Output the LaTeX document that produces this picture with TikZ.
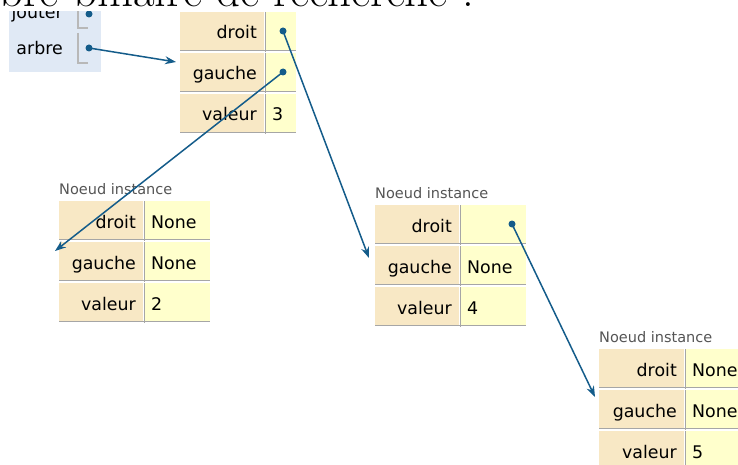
\documentclass[tikz,border=0pt]{standalone}
\usepackage{fontspec}
\newfontfamily\dv{DejaVu Sans}
\usetikzlibrary{arrows.meta}
\definecolor{keyc}{HTML}{F8E8C5}
\definecolor{valc}{HTML}{FFFFCC}
\definecolor{framec}{HTML}{E0E9F5}
\definecolor{ptr}{HTML}{145C8A}
\definecolor{sepc}{HTML}{A6A6A6}
\definecolor{lblc}{HTML}{555555}
\tikzset{
  keycell/.style={fill=keyc, draw=none, anchor=north west, inner sep=0pt, minimum height=38pt},
  valcell/.style={fill=valc, draw=none, anchor=north west, inner sep=0pt, minimum height=38pt},
  keytxt/.style={anchor=base east, inner sep=0pt, font=\dv\fontsize{17.4}{20}\selectfont},
  valtxt/.style={anchor=base west, inner sep=0pt, font=\dv\fontsize{17.4}{20}\selectfont},
  objlbl/.style={anchor=base west, inner sep=0pt, text=lblc, font=\dv\fontsize{14.5}{17}\selectfont},
  dot/.style={circle, fill=ptr, draw=none, inner sep=0pt, minimum size=7pt},
  ptrarrow/.style={draw=ptr, line width=1.5pt, -{Stealth[length=11pt, width=8pt]}},
  sepline/.style={draw=sepc, line width=1.6pt},
  bracket/.style={draw=sepc!80, line width=1.2pt},
}
% row: name, x, top, keyw, valw, key text, value text
\newcommand\hrow[7]{%
  \node[keycell, minimum width=#4pt] (#1k) at (#2,#3) {};
  \node[valcell, minimum width=#5pt] (#1v) at (#2+#4+2,#3) {};
  \draw[sepline] (#1k.south west) -- (#1v.south east);
  \draw[sepline] ([xshift=1pt]#1k.north east) -- ([xshift=1pt,yshift=-1.6pt]#1k.south east);
  \node[keytxt] (#1kt) at (#2+#4-7,#3+27) {#6};
  \node[valtxt] (#1vt) at (#2+#4+8,#3+27) {#7};
}
\newcommand\hobj[8]{%
  \node[objlbl] (#1lbl) at (#2,#3-7) {Noeud instance};
  \hrow{#1d}{#2}{#3}{#4}{#5}{droit}{#6}
  \hrow{#1g}{#2}{#3+41}{#4}{#5}{gauche}{#7}
  \hrow{#1v}{#2}{#3+82}{#4}{#5}{valeur}{#8}
}
\begin{document}
\begin{tikzpicture}[x=1pt,y=-1pt]
\useasboundingbox (0,0) rectangle (738,465);
\clip (0,0) rectangle (738,465);
% title
\node[anchor=base east, inner sep=0pt, font=\fontsize{47}{54}\selectfont] (title) at (474,7) {Arbre binaire de recherche :};
% global frame
\begin{scope}
  \clip (9,12) rectangle (101,72);
  \fill[framec] (9,0) rectangle (101,72);
  \node[keytxt] (vj) at (63,19) {jouter};
  \node[keytxt] (va) at (63,55) {arbre};
  \draw[bracket] (78,0) -- (78,28) -- (88,28);
  \draw[bracket] (78,33) -- (78,63) -- (88,63);
  \node[dot] (dj) at (89,14) {};
  \node[dot] (da) at (89,48) {};
\end{scope}
% objects
\hrow{td}{180}{12}{84}{30}{droit}{}
\hrow{tg}{180}{53}{84}{30}{gauche}{}
\hrow{tv}{180}{94}{84}{30}{valeur}{3}
\hobj{L}{59}{201}{84}{65}{None}{None}{2}
\hobj{M}{375}{205}{84}{65}{}{None}{4}
\hobj{R}{599}{349}{85}{60}{None}{None}{5}
% pointers
\node[dot] (tdd) at (283,31) {};
\node[dot] (tgd) at (283,72) {};
\node[dot] (Mdd) at (512,224) {};
\coordinate (ta) at (176,62);
\coordinate (La) at (55,251);
\coordinate (Ma) at (369,258);
\coordinate (Ra) at (595,397);
\draw[ptrarrow] (da.center) -- (ta);
\draw[ptrarrow] (tgd.center) -- (La);
\draw[ptrarrow] (tdd.center) -- (Ma);
\draw[ptrarrow] (Mdd.center) -- (Ra);
\end{tikzpicture}
\end{document}
